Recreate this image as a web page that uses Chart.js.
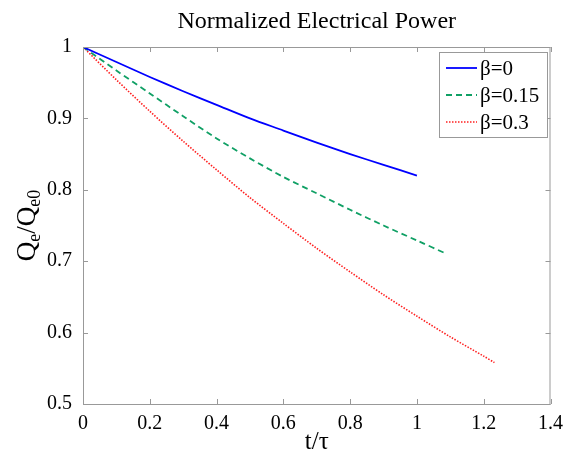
<!DOCTYPE html>
<html>
<head>
<meta charset="utf-8">
<script src="https://cdn.jsdelivr.net/npm/chart.js@4.4.1/dist/chart.umd.min.js"></script>
<style>
  html, body { margin: 0; padding: 0; background: #fff; }
  canvas { display: block; }
</style>
</head>
<body>
<canvas id="powerChart" width="563" height="455"></canvas>
<script>
// values
const tBeta0 = [0, 0.1, 0.2, 0.3, 0.4, 0.5, 0.6, 0.7, 0.8, 0.9, 1.0];
const qBeta0 = [1, 0.979, 0.958, 0.938, 0.919, 0.900, 0.883, 0.866, 0.850, 0.835, 0.820];

const tBeta015 = [0, 0.1, 0.2, 0.3, 0.4, 0.5, 0.6, 0.7, 0.8, 0.9, 1.0, 1.09];
const qBeta015 = [1, 0.967, 0.935, 0.903, 0.872, 0.844, 0.818, 0.795, 0.772, 0.750, 0.729, 0.710];

const tBeta03 = [0, 0.1, 0.2, 0.3, 0.4, 0.5, 0.6, 0.7, 0.8, 0.9, 1.0, 1.1, 1.2, 1.232];
const qBeta03 = [1, 0.954, 0.910, 0.868, 0.828, 0.789, 0.753, 0.718, 0.685, 0.653, 0.623, 0.594, 0.567, 0.558];

const seriesLabels = ["β=0", "β=0.15", "β=0.3"];
const xTicks = [0, 0.2, 0.4, 0.6, 0.8, 1, 1.2, 1.4];
const yTicks = [0.5, 0.6, 0.7, 0.8, 0.9, 1];

const serif = "'Liberation Serif', 'Times New Roman', serif";
const boxColor = "#999";

function toPoints(xs, ys) {
  return xs.map((x, i) => ({ x: x, y: ys[i] }));
}

// box, inward ticks, title, y label with subscripts and legend
const decorations = {
  id: "decorations",
  afterDraw(chart) {
    const ctx = chart.ctx;
    const a = chart.chartArea;
    const xs = chart.scales.x;
    const ys = chart.scales.y;
    const tick = 5;

    ctx.save();
    ctx.strokeStyle = boxColor;
    ctx.lineWidth = 1;
    ctx.strokeRect(a.left + 0.5, a.top + 0.5, a.right - a.left - 1, a.bottom - a.top);

    ctx.beginPath();
    xTicks.forEach(v => {
      const px = Math.round(xs.getPixelForValue(v)) + 0.5;
      ctx.moveTo(px, a.bottom); ctx.lineTo(px, a.bottom - tick);
      ctx.moveTo(px, a.top); ctx.lineTo(px, a.top + tick);
    });
    yTicks.forEach(v => {
      const py = Math.round(ys.getPixelForValue(v)) + 0.5;
      ctx.moveTo(a.left, py); ctx.lineTo(a.left + tick, py);
      ctx.moveTo(a.right, py); ctx.lineTo(a.right - tick, py);
    });
    ctx.stroke();

    // title
    ctx.fillStyle = "#000";
    ctx.font = "24px " + serif;
    ctx.textAlign = "center";
    ctx.textBaseline = "middle";
    ctx.fillText("Normalized Electrical Power", (a.left + a.right) / 2, 22);

    // x label
    ctx.font = "25px " + serif;
    ctx.fillText("t/τ", (a.left + a.right) / 2, 442);

    // y label: Q_e / Q_e0
    const parts = [
      { t: "Q", size: 27, dy: 0 },
      { t: "e", size: 18, dy: 7 },
      { t: "/Q", size: 27, dy: 0 },
      { t: "e0", size: 18, dy: 7 }
    ];
    let total = 0;
    parts.forEach(p => { ctx.font = p.size + "px " + serif; p.w = ctx.measureText(p.t).width; total += p.w; });
    ctx.translate(28, (a.top + a.bottom) / 2);
    ctx.rotate(-Math.PI / 2);
    ctx.textAlign = "left";
    ctx.textBaseline = "middle";
    let cx = -total / 2;
    parts.forEach(p => {
      ctx.font = p.size + "px " + serif;
      ctx.fillText(p.t, cx, p.dy);
      cx += p.w;
    });
    ctx.restore();

    // legend
    ctx.save();
    const lx = 439, ly = 52, lw = 108, lh = 85;
    ctx.fillStyle = "#fff";
    ctx.fillRect(lx, ly, lw, lh);
    ctx.strokeStyle = boxColor;
    ctx.lineWidth = 1;
    ctx.strokeRect(lx + 0.5, ly + 0.5, lw, lh);
    ctx.font = "21px " + serif;
    ctx.textAlign = "left";
    ctx.textBaseline = "middle";
    chart.data.datasets.forEach((ds, i) => {
      const y = ly + 16 + i * 27;
      ctx.strokeStyle = ds.borderColor;
      ctx.lineWidth = ds.borderWidth;
      ctx.setLineDash(ds.borderDash || []);
      ctx.beginPath();
      ctx.moveTo(lx + 7, y);
      ctx.lineTo(lx + 38, y);
      ctx.stroke();
      ctx.setLineDash([]);
      ctx.fillStyle = "#000";
      ctx.fillText(ds.label, lx + 41, y + 1);
    });
    ctx.restore();
  }
};

new Chart(document.getElementById("powerChart"), {
  type: "line",
  data: {
    datasets: [
      {
        label: seriesLabels[0],
        data: toPoints(tBeta0, qBeta0),
        borderColor: "#0000ff",
        borderWidth: 1.8,
        pointRadius: 0,
        tension: 0.3,
        fill: false
      },
      {
        label: seriesLabels[1],
        data: toPoints(tBeta015, qBeta015),
        borderColor: "#10a065",
        borderWidth: 1.8,
        borderDash: [6, 4],
        pointRadius: 0,
        tension: 0.3,
        fill: false
      },
      {
        label: seriesLabels[2],
        data: toPoints(tBeta03, qBeta03),
        borderColor: "#ff2020",
        borderWidth: 1.6,
        borderDash: [1.5, 1.5],
        pointRadius: 0,
        tension: 0.3,
        fill: false
      }
    ]
  },
  options: {
    responsive: false,
    animation: false,
    layout: { padding: { top: 47, right: 12, left: 0, bottom: 0 } },
    plugins: {
      legend: { display: false },
      title: { display: false },
      tooltip: { enabled: false }
    },
    scales: {
      x: {
        type: "linear",
        min: 0,
        max: 1.4,
        afterBuildTicks: s => { s.ticks = xTicks.map(v => ({ value: v })); },
        afterFit: s => { s.height = 51; },
        grid: { display: false },
        border: { display: false },
        ticks: {
          color: "#000",
          font: { family: serif, size: 20 },
          padding: 0,
          maxRotation: 0,
          callback: v => String(+v.toFixed(1))
        }
      },
      y: {
        min: 0.5,
        max: 1,
        afterBuildTicks: s => { s.ticks = yTicks.map(v => ({ value: v })); },
        afterFit: s => { s.width = 83; },
        grid: { display: false },
        border: { display: false },
        ticks: {
          color: "#000",
          font: { family: serif, size: 20 },
          padding: 3,
          callback: v => String(+v.toFixed(1))
        }
      }
    }
  },
  plugins: [decorations]
});
</script>
</body>
</html>
